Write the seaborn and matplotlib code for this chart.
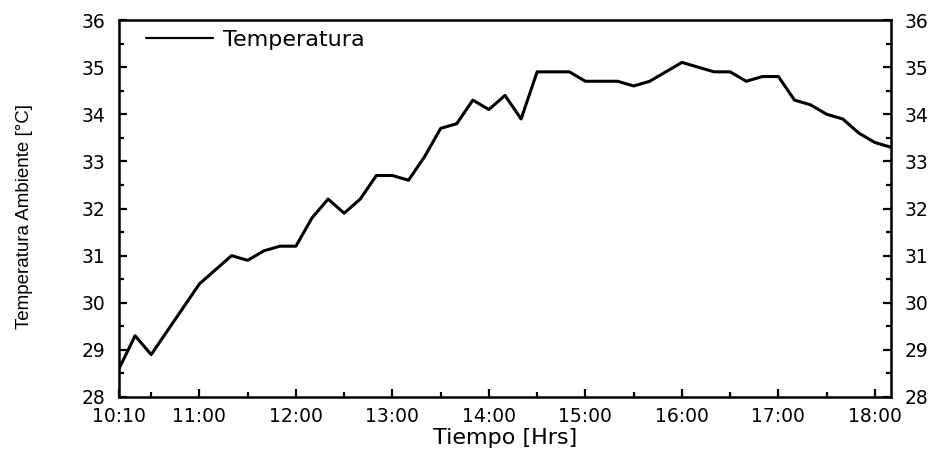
import matplotlib
matplotlib.use("Agg")
import matplotlib.pyplot as plt
from matplotlib.ticker import FixedLocator, MultipleLocator
import pandas as pd
import seaborn as sns

# Ten-minute readings of ambient temperature
horas = [
    "10:10", "10:20", "10:30", "10:40", "10:50",
    "11:00", "11:10", "11:20", "11:30", "11:40", "11:50",
    "12:00", "12:10", "12:20", "12:30", "12:40", "12:50",
    "13:00", "13:10", "13:20", "13:30", "13:40", "13:50",
    "14:00", "14:10", "14:20", "14:30", "14:40", "14:50",
    "15:00", "15:10", "15:20", "15:30", "15:40", "15:50",
    "16:00", "16:10", "16:20", "16:30", "16:40", "16:50",
    "17:00", "17:10", "17:20", "17:30", "17:40", "17:50",
    "18:00", "18:10",
]
temperatura = [
    28.6, 29.3, 28.9, 29.4, 29.9,
    30.4, 30.7, 31.0, 30.9, 31.1, 31.2,
    31.2, 31.8, 32.2, 31.9, 32.2, 32.7,
    32.7, 32.6, 33.1, 33.7, 33.8, 34.3,
    34.1, 34.4, 33.9, 34.9, 34.9, 34.9,
    34.7, 34.7, 34.7, 34.6, 34.7, 34.9,
    35.1, 35.0, 34.9, 34.9, 34.7, 34.8,
    34.8, 34.3, 34.2, 34.0, 33.9, 33.6,
    33.4, 33.3,
]
etiquetas_x = ["10:10", "11:00", "12:00", "13:00", "14:00",
               "15:00", "16:00", "17:00", "18:00"]
marcas_menores_x = ["10:30", "11:30", "12:30", "13:30",
                    "14:30", "15:30", "16:30", "17:30"]


def a_horas(t):
    h, m = t.split(":")
    return int(h) + int(m) / 60.0


df = pd.DataFrame({"hora": [a_horas(t) for t in horas],
                   "temp": temperatura})

sns.set_theme(style="ticks")
plt.rcParams["font.family"] = ["DejaVu Sans"]
plt.rcParams["text.color"] = "black"
plt.rcParams["axes.labelcolor"] = "black"

fig = plt.figure(figsize=(9.34, 4.53), dpi=100)
ax = fig.add_axes([119 / 934, 1 - 397 / 453, 772 / 934, 377 / 453])

sns.lineplot(data=df, x="hora", y="temp", ax=ax, color="black",
             linewidth=2.2, label="Temperatura")

ax.set_xlim(a_horas("10:10"), a_horas("18:10"))
ax.set_ylim(28, 36)

ax.xaxis.set_major_locator(FixedLocator([a_horas(t) for t in etiquetas_x]))
ax.set_xticklabels(etiquetas_x)
ax.xaxis.set_minor_locator(FixedLocator([a_horas(t) for t in marcas_menores_x]))
ax.yaxis.set_major_locator(MultipleLocator(1))
ax.yaxis.set_minor_locator(MultipleLocator(0.5))

for s in ax.spines.values():
    s.set_linewidth(1.8)
    s.set_color("black")

ax.tick_params(axis="both", which="both", direction="in", colors="black",
               labelcolor="black", width=1.6, labelsize=13.5)
ax.tick_params(axis="x", which="major", length=6, pad=7, top=False)
ax.tick_params(axis="x", which="minor", length=3.5, top=False)
ax.tick_params(axis="y", which="major", length=6, pad=10,
               left=True, right=True, labelleft=True, labelright=True)
ax.tick_params(axis="y", which="minor", length=3.5, left=True, right=True)

ax.set_xlabel("Tiempo [Hrs]", fontsize=16, labelpad=2, color="black")
ax.set_ylabel("Temperatura Ambiente [°C]", fontsize=13.5,
              family=["Liberation Sans", "DejaVu Sans"], color="black")
ax.yaxis.set_label_coords(-0.112, 0.479)

leg = ax.legend(loc="center left", bbox_to_anchor=(0.035, 0.947),
                frameon=False, fontsize=16, handlelength=3.0,
                handletextpad=0.45, borderaxespad=0, borderpad=0)
for txt in leg.get_texts():
    txt.set_color("black")
for ln in leg.get_lines():
    ln.set_linewidth(1.6)

fig.savefig("out.png", dpi=100, facecolor="white")
